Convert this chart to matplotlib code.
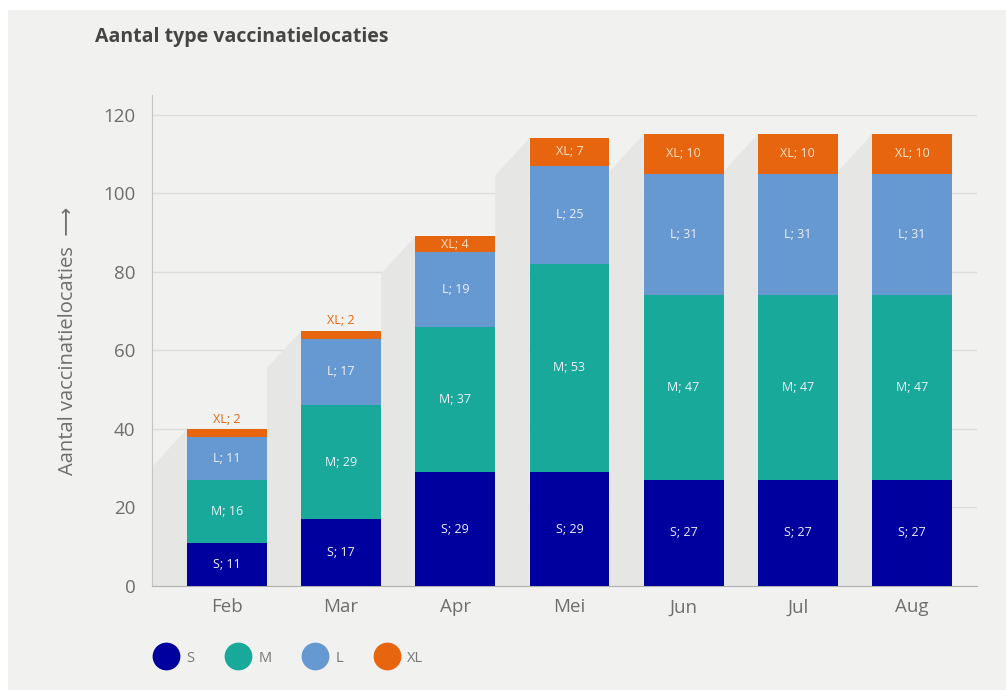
import matplotlib.pyplot as plt
from matplotlib.patches import Polygon, Rectangle
from matplotlib.lines import Line2D

plt.rcParams['font.family'] = ['Open Sans', 'DejaVu Sans']

months = ['Feb', 'Mar', 'Apr', 'Mei', 'Jun', 'Jul', 'Aug']
s_vals = [11, 17, 29, 29, 27, 27, 27]
m_vals = [16, 29, 37, 53, 47, 47, 47]
l_vals = [11, 17, 19, 25, 31, 31, 31]
xl_vals = [2, 2, 4, 7, 10, 10, 10]
series = ['S', 'M', 'L', 'XL']
colors = ['#00009e', '#18a99b', '#6699d1', '#e8650f']

bg = '#f1f1ef'
fig = plt.figure(figsize=(10.06, 6.9), dpi=100, facecolor='white')
fig.patches.append(Rectangle((8 / 1006, 0), 1, 680 / 690, transform=fig.transFigure,
                             facecolor=bg, edgecolor='none', zorder=-10))
ax = fig.add_axes([152 / 1006, 104 / 690, 825 / 1006, 491 / 690])
ax.set_facecolor(bg)

x = list(range(len(months)))
w = 0.7
gap = 0.3
totals = [a + b + c + d for a, b, c, d in zip(s_vals, m_vals, l_vals, xl_vals)]

# grey "shadow" shapes left of each bar
for i, t in enumerate(totals):
    left = x[i] - w / 2
    poly = Polygon([(left - gap, 0), (left - gap, t - 9.5), (left, t), (left, 0)],
                   closed=True, facecolor='#e6e6e4', edgecolor='none', zorder=1)
    ax.add_patch(poly)

bottom = [0] * len(months)
for name, vals, col in zip(series, [s_vals, m_vals, l_vals, xl_vals], colors):
    ax.bar(x, vals, w, bottom=bottom, color=col, zorder=3, label=name)
    for i, v in enumerate(vals):
        txt = f'{name}; {v}'
        if name == 'XL' and v < 4:
            ax.text(x[i], bottom[i] + v + 2.5, txt, ha='center', va='center',
                    fontsize=9, color='#e8650f', zorder=4)
        else:
            tc = '#f7e3c8' if name == 'XL' else '#eef0f8'
            ax.text(x[i], bottom[i] + v / 2, txt, ha='center', va='center',
                    fontsize=9, color=tc, zorder=4)
    bottom = [b + v for b, v in zip(bottom, vals)]

ax.set_xlim(-0.657, 6.57)
ax.set_ylim(0, 125)
ax.set_yticks(range(0, 121, 20))
ax.set_xticks(x)
ax.set_xticklabels(months)
ax.yaxis.grid(True, color='#dcdcda', linewidth=1, zorder=0)
ax.set_axisbelow(True)
ax.tick_params(length=0, labelsize=13.5, colors='#6e6e6e')
ax.tick_params(axis='x', pad=9)
ax.tick_params(axis='y', pad=12)
for sp in ['top', 'right']:
    ax.spines[sp].set_visible(False)
ax.spines['left'].set_color('#c4c4c2')
ax.spines['bottom'].set_color('#b0b0ae')
ax.set_ylabel('Aantal vaccinatielocaties  \u27f6', fontsize=14.5, color='#6e6e6e', labelpad=18)

fig.text(95 / 1006, 1 - 37 / 690, 'Aantal type vaccinatielocaties', fontsize=14,
         fontweight='bold', color='#454545', va='center')

handles = [Line2D([], [], marker='o', linestyle='none', markersize=20,
                  markerfacecolor=c, markeredgecolor='none') for c in colors]
fig.legend(handles, series, loc='center left', bbox_to_anchor=(138 / 1006, 1 - 658 / 690),
           ncol=4, frameon=False, fontsize=10.5, labelcolor='#777777',
           handletextpad=0.4, columnspacing=2.0)

fig.savefig('out.png', dpi=100, facecolor=fig.get_facecolor())
